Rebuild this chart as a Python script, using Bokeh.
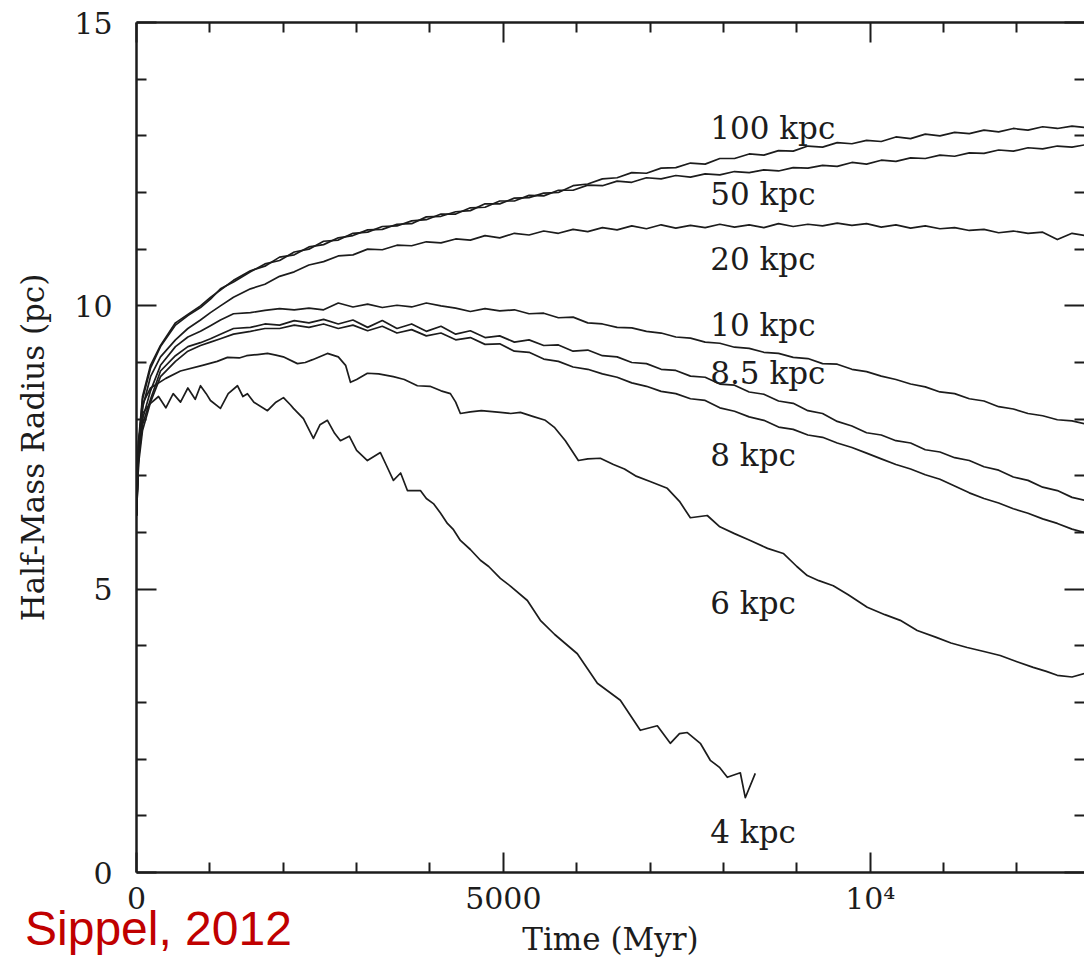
from bokeh.plotting import figure
from bokeh.layouts import column
from bokeh.models import LinearAxis, FixedTicker, Range1d, ColumnDataSource, Div
from bokeh.core.properties import value
from bokeh.embed import file_html
from bokeh.resources import INLINE

# Half-mass radius (pc) versus time (Myr) for clusters at several galactocentric distances.
# The six outer clusters share one time grid.
t_grid = [0, 27, 82, 191, 327, 531, 700, 872, 1008, 1144, 1322, 1553,
          1750, 1950, 2150, 2350, 2550, 2750, 2950, 3150, 3350, 3550,
          3750, 3950, 4150, 4350, 4550, 4750, 4950, 5150, 5350, 5550,
          5750, 5950, 6150, 6350, 6550, 6750, 6950, 7150, 7350, 7550,
          7750, 7950, 8150, 8350, 8550, 8750, 8950, 9150, 9350, 9550,
          9750, 9950, 10150, 10350, 10550, 10750, 10950, 11150, 11350, 11550,
          11750, 11950, 12150, 12350, 12550, 12750, 12920]

r_100 = [6.3, 7.6, 8.4, 8.95, 9.3, 9.7, 9.85, 10.0, 10.15, 10.28, 10.45, 10.62,
         10.7, 10.86, 10.9, 11.04, 11.08, 11.2, 11.24, 11.34, 11.35, 11.44,
         11.45, 11.57, 11.58, 11.66, 11.68, 11.8, 11.8, 11.9, 11.91, 11.99,
         12.0, 12.12, 12.15, 12.24, 12.26, 12.35, 12.34, 12.43, 12.44, 12.52,
         12.5, 12.6, 12.6, 12.68, 12.66, 12.74, 12.73, 12.82, 12.8, 12.88,
         12.86, 12.92, 12.9, 12.98, 12.95, 13.03, 13.0, 13.06, 13.04, 13.1,
         13.07, 13.13, 13.1, 13.16, 13.13, 13.17, 13.15]

r_50 = [6.3, 7.5, 8.35, 8.9, 9.28, 9.66, 9.83, 9.97, 10.12, 10.3, 10.42, 10.6,
        10.74, 10.8, 10.95, 11.0, 11.14, 11.16, 11.28, 11.3, 11.4, 11.41,
        11.5, 11.52, 11.62, 11.62, 11.73, 11.74, 11.85, 11.85, 11.95, 11.94,
        12.04, 12.04, 12.13, 12.12, 12.2, 12.18, 12.26, 12.24, 12.3, 12.27,
        12.33, 12.31, 12.37, 12.35, 12.4, 12.38, 12.44, 12.43, 12.48, 12.46,
        12.53, 12.5, 12.57, 12.55, 12.61, 12.6, 12.66, 12.64, 12.7, 12.69,
        12.75, 12.73, 12.79, 12.77, 12.82, 12.8, 12.84]

r_20 = [6.3, 7.5, 8.2, 8.75, 9.1, 9.4, 9.6, 9.75, 9.88, 10.0, 10.15, 10.3,
        10.38, 10.52, 10.6, 10.72, 10.78, 10.88, 10.9, 11.0, 10.99, 11.07,
        11.06, 11.13, 11.11, 11.18, 11.16, 11.24, 11.2, 11.28, 11.25, 11.32,
        11.28, 11.35, 11.31, 11.38, 11.34, 11.41, 11.36, 11.43, 11.37, 11.42,
        11.38, 11.44, 11.39, 11.43, 11.38, 11.45, 11.4, 11.44, 11.41, 11.46,
        11.42, 11.45, 11.39, 11.43, 11.37, 11.41, 11.36, 11.38, 11.33, 11.35,
        11.29, 11.32, 11.28, 11.3, 11.17, 11.28, 11.24]

r_10 = [6.3, 7.4, 8.0, 8.5, 8.95, 9.28, 9.45, 9.55, 9.65, 9.75, 9.86, 9.88,
        9.92, 9.95, 9.93, 9.96, 9.93, 10.05, 9.98, 10.03, 9.97, 10.01,
        9.98, 10.05, 10.0, 9.96, 9.9, 9.95, 9.91, 9.93, 9.86, 9.87,
        9.79, 9.8, 9.7, 9.68, 9.62, 9.61, 9.55, 9.52, 9.45, 9.43,
        9.36, 9.34, 9.27, 9.25, 9.18, 9.16, 9.09, 9.07, 8.98, 8.97,
        8.88, 8.84, 8.76, 8.7, 8.62, 8.57, 8.48, 8.45, 8.36, 8.32,
        8.22, 8.18, 8.1, 8.06, 7.99, 7.97, 7.92]

r_85 = [6.3, 7.3, 7.9, 8.35, 8.85, 9.12, 9.28, 9.35, 9.42, 9.5, 9.6, 9.62,
        9.68, 9.66, 9.74, 9.7, 9.76, 9.68, 9.75, 9.62, 9.74, 9.6,
        9.68, 9.55, 9.64, 9.5, 9.56, 9.44, 9.47, 9.36, 9.4, 9.3,
        9.31, 9.2, 9.22, 9.12, 9.1, 9.0, 8.98, 8.88, 8.86, 8.76,
        8.74, 8.62, 8.6, 8.48, 8.44, 8.32, 8.28, 8.15, 8.1, 7.96,
        7.88, 7.76, 7.72, 7.62, 7.58, 7.46, 7.42, 7.32, 7.27, 7.16,
        7.1, 6.98, 6.92, 6.8, 6.74, 6.62, 6.57]

r_8 = [6.3, 7.2, 7.8, 8.3, 8.75, 9.02, 9.2, 9.3, 9.36, 9.42, 9.5, 9.55,
       9.6, 9.6, 9.66, 9.62, 9.68, 9.6, 9.66, 9.56, 9.64, 9.52,
       9.58, 9.47, 9.52, 9.4, 9.44, 9.32, 9.33, 9.2, 9.18, 9.06,
       9.02, 8.92, 8.88, 8.8, 8.74, 8.64, 8.58, 8.49, 8.45, 8.36,
       8.33, 8.2, 8.14, 8.04, 7.98, 7.86, 7.82, 7.72, 7.68, 7.58,
       7.5, 7.4, 7.3, 7.2, 7.12, 7.02, 6.94, 6.82, 6.7, 6.6,
       6.52, 6.42, 6.34, 6.24, 6.16, 6.06, 6.0]

t_6 = [0, 27, 54, 95, 191, 400, 599, 900, 1100, 1240, 1400, 1500, 1650, 1785, 1900, 2000,
       2193, 2300, 2400, 2602, 2750, 2850, 2916, 3000, 3147, 3300, 3500, 3650, 3828, 4000,
       4150, 4278, 4350, 4414, 4550, 4700, 4959, 5100, 5232, 5400, 5572, 5700, 5845, 6022,
       6150, 6321, 6500, 6650, 6800, 7000, 7234, 7400, 7548, 7779, 7950, 8150, 8365, 8600,
       8815, 9000, 9142, 9300, 9496, 9700, 9959, 10200, 10409, 10640, 10900, 11100, 11321,
       11550, 11771, 12000, 12221, 12400, 12548, 12750, 12920]
r_6 = [6.3, 7.2, 7.9, 8.3, 8.55, 8.72, 8.85, 8.95, 9.02, 9.09, 9.08, 9.12, 9.14, 9.16, 9.13,
       9.1, 8.98, 9.0, 9.05, 9.16, 9.1, 8.95, 8.65, 8.7, 8.81, 8.8, 8.75, 8.7, 8.59, 8.58,
       8.5, 8.45, 8.3, 8.1, 8.13, 8.15, 8.12, 8.1, 8.12, 8.05, 7.98, 7.85, 7.62, 7.27, 7.3,
       7.31, 7.2, 7.12, 7.0, 6.9, 6.78, 6.55, 6.26, 6.3, 6.1, 5.98, 5.86, 5.72, 5.63, 5.4,
       5.24, 5.15, 5.06, 4.9, 4.68, 4.55, 4.45, 4.27, 4.15, 4.05, 3.97, 3.9, 3.83, 3.72,
       3.62, 3.55, 3.48, 3.45, 3.51]

t_4 = [0, 27, 82, 191, 300, 400, 500, 600, 700, 800, 872, 950, 1008, 1144, 1250, 1376, 1450,
       1512, 1600, 1785, 1900, 2003, 2100, 2139, 2275, 2411, 2500, 2602, 2700, 2779, 2900,
       3000, 3147, 3324, 3400, 3501, 3600, 3692, 3869, 3950, 4046, 4140, 4237, 4320, 4414,
       4550, 4687, 4800, 4959, 5100, 5327, 5504, 5700, 6008, 6281, 6594, 6866, 7098, 7275,
       7400, 7507, 7684, 7820, 7950, 8052, 8229, 8297, 8433]
r_4 = [6.3, 7.6, 8.1, 8.28, 8.4, 8.2, 8.45, 8.3, 8.55, 8.35, 8.59, 8.45, 8.33, 8.19, 8.45,
       8.59, 8.4, 8.45, 8.3, 8.15, 8.3, 8.38, 8.25, 8.19, 8.01, 7.66, 7.9, 7.98, 7.75, 7.62,
       7.7, 7.45, 7.27, 7.41, 7.2, 6.92, 7.05, 6.74, 6.74, 6.6, 6.51, 6.35, 6.16, 6.05, 5.86,
       5.7, 5.51, 5.4, 5.19, 5.05, 4.8, 4.45, 4.2, 3.86, 3.34, 3.04, 2.51, 2.59, 2.28, 2.45,
       2.47, 2.28, 1.98, 1.85, 1.68, 1.76, 1.32, 1.75]

series = [(t_grid, r_100), (t_grid, r_50), (t_grid, r_20), (t_grid, r_10),
          (t_grid, r_85), (t_grid, r_8), (t_6, r_6), (t_4, r_4)]

# Distance labels placed beside the curves
label_text = ["100 kpc", "50 kpc", "20 kpc", "10 kpc", "8.5 kpc", "8 kpc", "6 kpc", "4 kpc"]
label_t = [7820, 7820, 7820, 7820, 7820, 7820, 7820, 7820]
label_r = [13.13, 11.98, 10.82, 9.67, 8.81, 7.36, 4.76, 0.71]

x_major = [0, 5000, 10000]
x_minor = [1000, 2000, 3000, 4000, 6000, 7000, 8000, 9000, 11000, 12000, 13000]
y_major = [0, 5, 10, 15]
y_minor = [1, 2, 3, 4, 6, 7, 8, 9, 11, 12, 13, 14]

SERIF = "DejaVu Serif"
INK = "#1c1c1c"

p = figure(width=1084, height=959, x_range=Range1d(0, 12920), y_range=Range1d(0, 15),
           output_backend="svg", toolbar_location=None,
           min_border_left=136, min_border_right=0, min_border_top=22, min_border_bottom=87)
p.grid.visible = False
p.outline_line_color = None
p.background_fill_color = "white"
p.border_fill_color = "white"

for tt, rr in series:
    p.line(tt, rr, line_color=INK, line_width=1.7, line_join="round")

src = ColumnDataSource(dict(x=label_t, y=label_r, text=label_text))
p.text(x="x", y="y", text="text", source=src, text_font=value(SERIF), text_font_size="31px",
       text_color=INK, text_align="left", text_baseline="middle")


def style_axis(ax, labels=True):
    ax.major_tick_in = 20
    ax.major_tick_out = 0
    ax.minor_tick_in = 10
    ax.minor_tick_out = 0
    ax.major_tick_line_width = 2
    ax.minor_tick_line_width = 2
    ax.major_tick_line_color = INK
    ax.minor_tick_line_color = INK
    ax.axis_line_width = 2.5
    ax.axis_line_color = INK
    if labels:
        ax.major_label_text_font = SERIF
        ax.major_label_text_font_size = "30px"
        ax.major_label_text_color = INK
        ax.axis_label_text_font = SERIF
        ax.axis_label_text_font_size = "31px"
        ax.axis_label_text_font_style = "normal"
        ax.axis_label_text_color = INK
    else:
        # tick marks only on the mirrored axes
        ax.major_label_text_font_size = "1px"
        ax.major_label_text_color = None
        ax.major_label_standoff = 0


xa = p.xaxis[0]
xa.ticker = FixedTicker(ticks=x_major, minor_ticks=x_minor)
xa.axis_label = "Time (Myr)"
xa.major_label_overrides = {10000: "10\u2074"}
style_axis(xa)
xa.major_label_standoff = 8
xa.axis_label_standoff = 2

ya = p.yaxis[0]
ya.ticker = FixedTicker(ticks=y_major, minor_ticks=y_minor)
ya.axis_label = "Half-Mass Radius (pc)"
style_axis(ya)
ya.major_label_standoff = 24
ya.axis_label_standoff = 20

top = LinearAxis(ticker=FixedTicker(ticks=x_major, minor_ticks=x_minor))
style_axis(top, labels=False)
p.add_layout(top, "above")

right = LinearAxis(ticker=FixedTicker(ticks=y_major, minor_ticks=y_minor))
style_axis(right, labels=False)
right.axis_line_color = None
p.add_layout(right, "right")

# Source credit in the lower-left corner, overlapping the figure's bottom margin
credit = Div(text="Sippel, 2012", width=300, height=50, margin=(-54, 0, 0, 25),
             styles={"position": "relative", "z-index": "10", "color": "#c00000",
                     "font-family": "'Liberation Sans', Arial, sans-serif",
                     "font-size": "48px", "line-height": "1", "white-space": "nowrap"})

page = column(p, credit, spacing=0)

open("out.html", "w").write(file_html(page, INLINE))
